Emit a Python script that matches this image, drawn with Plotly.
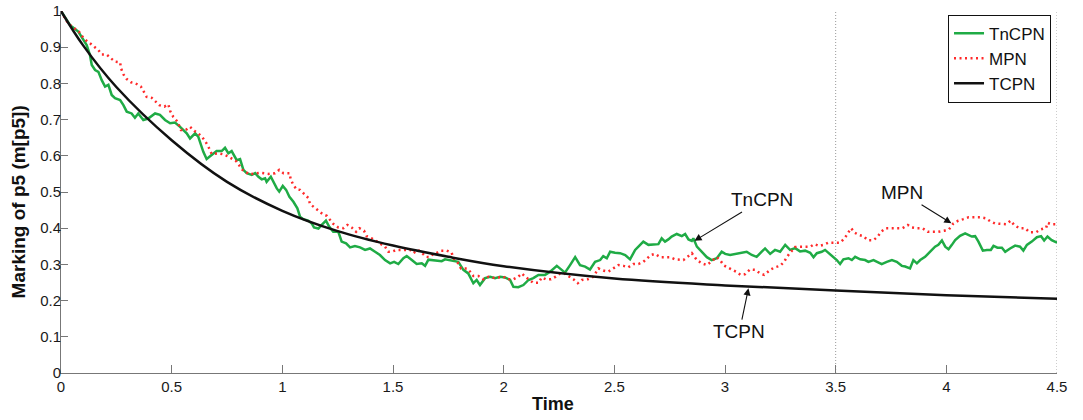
import plotly.graph_objects as go

# ---------------- data ----------------
TNCPN = [(0,1.0),(0.041,0.961),(0.078,0.943),(0.116,0.906),(0.131,0.878),(0.139,0.851),(0.154,0.837),(0.169,0.832),(0.184,0.809),(0.199,0.791),(0.214,0.796),(0.229,0.768),(0.244,0.759),(0.267,0.754),(0.282,0.740),(0.297,0.722),(0.319,0.717),(0.334,0.705),(0.349,0.717),(0.372,0.699),(0.394,0.703),(0.425,0.717),(0.447,0.713),(0.470,0.699),(0.493,0.690),(0.515,0.692),(0.538,0.680),(0.568,0.662),(0.583,0.648),(0.606,0.662),(0.620,0.653),(0.643,0.611),(0.658,0.591),(0.681,0.602),(0.703,0.613),(0.726,0.613),(0.741,0.622),(0.756,0.607),(0.771,0.613),(0.794,0.588),(0.809,0.591),(0.824,0.561),(0.839,0.552),(0.862,0.547),(0.877,0.552),(0.892,0.542),(0.907,0.535),(0.922,0.538),(0.929,0.528),(0.948,0.542),(0.959,0.528),(0.975,0.510),(0.986,0.501),(1.002,0.517),(1.017,0.506),(1.032,0.487),(1.050,0.473),(1.068,0.455),(1.080,0.432),(1.095,0.425),(1.117,0.421),(1.133,0.413),(1.143,0.402),(1.163,0.399),(1.178,0.409),(1.197,0.421),(1.212,0.404),(1.230,0.390),(1.253,0.390),(1.268,0.363),(1.288,0.358),(1.306,0.347),(1.328,0.351),(1.351,0.347),(1.374,0.340),(1.396,0.344),(1.419,0.335),(1.441,0.326),(1.464,0.312),(1.487,0.303),(1.505,0.307),(1.524,0.301),(1.547,0.317),(1.562,0.323),(1.585,0.312),(1.607,0.301),(1.630,0.303),(1.645,0.296),(1.660,0.313),(1.690,0.312),(1.720,0.309),(1.735,0.314),(1.765,0.310),(1.795,0.307),(1.818,0.285),(1.840,0.275),(1.863,0.248),(1.878,0.257),(1.893,0.243),(1.916,0.262),(1.939,0.266),(1.961,0.262),(1.984,0.266),(2.006,0.264),(2.029,0.257),(2.044,0.238),(2.066,0.237),(2.089,0.243),(2.112,0.257),(2.134,0.262),(2.157,0.271),(2.187,0.271),(2.210,0.280),(2.240,0.296),(2.262,0.285),(2.277,0.277),(2.300,0.298),(2.323,0.320),(2.345,0.298),(2.368,0.294),(2.390,0.286),(2.413,0.307),(2.436,0.312),(2.450,0.323),(2.466,0.317),(2.481,0.335),(2.503,0.332),(2.526,0.331),(2.549,0.326),(2.571,0.314),(2.594,0.340),(2.616,0.354),(2.631,0.363),(2.654,0.354),(2.676,0.356),(2.699,0.356),(2.714,0.372),(2.729,0.363),(2.744,0.369),(2.759,0.377),(2.782,0.384),(2.805,0.378),(2.820,0.384),(2.835,0.369),(2.850,0.365),(2.857,0.372),(2.873,0.349),(2.895,0.335),(2.918,0.320),(2.940,0.312),(2.963,0.317),(2.985,0.335),(3.001,0.329),(3.023,0.326),(3.053,0.329),(3.083,0.332),(3.098,0.335),(3.121,0.326),(3.143,0.321),(3.166,0.335),(3.181,0.344),(3.204,0.329),(3.226,0.340),(3.249,0.335),(3.272,0.354),(3.294,0.340),(3.317,0.345),(3.339,0.336),(3.362,0.338),(3.385,0.332),(3.400,0.320),(3.415,0.331),(3.437,0.335),(3.452,0.340),(3.467,0.332),(3.490,0.321),(3.505,0.312),(3.520,0.301),(3.535,0.314),(3.558,0.317),(3.573,0.312),(3.588,0.321),(3.611,0.314),(3.633,0.312),(3.648,0.307),(3.671,0.312),(3.693,0.305),(3.708,0.301),(3.731,0.307),(3.754,0.312),(3.776,0.307),(3.799,0.296),(3.814,0.294),(3.836,0.289),(3.851,0.312),(3.867,0.303),(3.882,0.312),(3.904,0.321),(3.927,0.335),(3.949,0.349),(3.964,0.354),(3.980,0.366),(3.995,0.349),(4.010,0.342),(4.025,0.354),(4.040,0.367),(4.062,0.379),(4.085,0.386),(4.115,0.377),(4.130,0.378),(4.145,0.363),(4.165,0.338),(4.183,0.340),(4.201,0.340),(4.213,0.351),(4.231,0.346),(4.251,0.346),(4.266,0.335),(4.288,0.344),(4.311,0.352),(4.333,0.349),(4.348,0.338),(4.364,0.354),(4.386,0.363),(4.409,0.375),(4.428,0.378),(4.442,0.366),(4.457,0.377),(4.476,0.367),(4.5,0.360)]

MPN = [(0,1.0),(0.026,0.972),(0.041,0.961),(0.063,0.950),(0.081,0.943),(0.093,0.932),(0.111,0.920),(0.131,0.911),(0.150,0.901),(0.169,0.892),(0.184,0.880),(0.206,0.880),(0.226,0.869),(0.244,0.860),(0.267,0.858),(0.271,0.842),(0.282,0.825),(0.297,0.812),(0.316,0.803),(0.337,0.800),(0.361,0.791),(0.377,0.775),(0.387,0.763),(0.410,0.760),(0.425,0.751),(0.444,0.740),(0.467,0.736),(0.485,0.742),(0.493,0.724),(0.507,0.708),(0.527,0.694),(0.542,0.671),(0.563,0.671),(0.583,0.680),(0.602,0.669),(0.620,0.662),(0.636,0.653),(0.651,0.641),(0.666,0.625),(0.681,0.605),(0.711,0.607),(0.733,0.604),(0.756,0.598),(0.779,0.590),(0.794,0.584),(0.809,0.570),(0.824,0.558),(0.854,0.549),(0.899,0.553),(0.937,0.550),(0.967,0.552),(0.986,0.561),(1.005,0.552),(1.032,0.552),(1.038,0.535),(1.050,0.519),(1.065,0.507),(1.080,0.506),(1.103,0.492),(1.118,0.483),(1.125,0.467),(1.143,0.458),(1.163,0.450),(1.182,0.439),(1.201,0.434),(1.216,0.423),(1.230,0.412),(1.253,0.402),(1.276,0.400),(1.294,0.409),(1.313,0.402),(1.333,0.390),(1.348,0.400),(1.369,0.393),(1.381,0.378),(1.404,0.372),(1.441,0.358),(1.464,0.349),(1.479,0.335),(1.494,0.335),(1.517,0.340),(1.540,0.340),(1.562,0.338),(1.577,0.340),(1.592,0.331),(1.612,0.340),(1.630,0.332),(1.649,0.321),(1.664,0.320),(1.675,0.326),(1.698,0.332),(1.717,0.338),(1.743,0.338),(1.765,0.332),(1.773,0.317),(1.792,0.305),(1.807,0.289),(1.833,0.289),(1.848,0.280),(1.863,0.268),(1.886,0.268),(1.908,0.259),(1.931,0.266),(1.953,0.263),(1.976,0.264),(1.999,0.266),(2.018,0.259),(2.044,0.259),(2.066,0.266),(2.082,0.275),(2.097,0.266),(2.115,0.257),(2.134,0.249),(2.157,0.249),(2.172,0.264),(2.190,0.259),(2.214,0.259),(2.235,0.266),(2.255,0.275),(2.274,0.275),(2.296,0.266),(2.315,0.259),(2.335,0.248),(2.353,0.257),(2.380,0.259),(2.405,0.266),(2.428,0.289),(2.450,0.283),(2.473,0.280),(2.496,0.288),(2.518,0.298),(2.541,0.296),(2.563,0.292),(2.586,0.301),(2.609,0.301),(2.631,0.307),(2.647,0.317),(2.665,0.326),(2.684,0.329),(2.707,0.320),(2.729,0.320),(2.752,0.320),(2.774,0.314),(2.797,0.312),(2.812,0.312),(2.835,0.323),(2.850,0.331),(2.873,0.312),(2.895,0.303),(2.918,0.298),(2.940,0.310),(2.963,0.320),(2.978,0.312),(2.993,0.298),(3.011,0.292),(3.031,0.286),(3.050,0.280),(3.071,0.271),(3.091,0.273),(3.113,0.286),(3.136,0.285),(3.159,0.275),(3.177,0.271),(3.189,0.277),(3.207,0.286),(3.226,0.292),(3.249,0.296),(3.267,0.307),(3.279,0.320),(3.294,0.332),(3.317,0.348),(3.339,0.349),(3.362,0.349),(3.385,0.349),(3.404,0.356),(3.425,0.351),(3.445,0.354),(3.467,0.360),(3.494,0.360),(3.520,0.360),(3.540,0.372),(3.555,0.386),(3.570,0.400),(3.585,0.388),(3.606,0.381),(3.625,0.378),(3.645,0.367),(3.671,0.367),(3.690,0.377),(3.705,0.390),(3.727,0.400),(3.751,0.400),(3.776,0.400),(3.802,0.400),(3.826,0.409),(3.844,0.402),(3.867,0.400),(3.892,0.400),(3.916,0.390),(3.942,0.390),(3.964,0.390),(3.991,0.393),(4.012,0.397),(4.032,0.413),(4.054,0.421),(4.077,0.425),(4.100,0.430),(4.130,0.430),(4.156,0.430),(4.180,0.427),(4.201,0.418),(4.220,0.413),(4.246,0.411),(4.270,0.411),(4.291,0.421),(4.306,0.409),(4.330,0.400),(4.356,0.400),(4.375,0.389),(4.406,0.389),(4.427,0.397),(4.451,0.401),(4.457,0.415),(4.473,0.411),(4.497,0.411)]

TCPN = [(0,1.0),(0.1,0.905),(0.25,0.79),(0.5,0.643),(0.75,0.528),(1.0,0.448),(1.25,0.392),(1.5,0.352),(1.75,0.321),(2.0,0.295),(2.5,0.261),(3.0,0.242),(3.5,0.228),(4.0,0.215),(4.5,0.205)]

X_TICKS = [0, 0.5, 1, 1.5, 2, 2.5, 3, 3.5, 4, 4.5]
X_LABELS = ["0", "0.5", "1", "1.5", "2", "2.5", "3", "3.5", "4", "4.5"]
Y_TICKS = [0, 0.1, 0.2, 0.3, 0.4, 0.5, 0.6, 0.7, 0.8, 0.9, 1]
Y_LABELS = ["0", "0.1", "0.2", "0.3", "0.4", "0.5", "0.6", "0.7", "0.8", "0.9", "1"]
GUIDE_X = [3.5, 4.5]

# annotations: (label, arrow head t, arrow head v, text t, text v)
CALLOUTS = [("TnCPN", 2.862, 0.365, 3.166, 0.478),
            ("MPN", 4.023, 0.4135, 3.801, 0.498),
            ("TCPN", 3.106, 0.234, 3.065, 0.114)]

FONT = "Liberation Sans, Arial, Helvetica, sans-serif"

def split(pairs):
    return [p[0] for p in pairs], [p[1] for p in pairs]

fig = go.Figure()
tx, ty = split(TNCPN)
fig.add_trace(go.Scatter(x=tx, y=ty, mode="lines", name="TnCPN",
                         line=dict(color="#1fab45", width=2.5)))
mx, my = split(MPN)
fig.add_trace(go.Scatter(x=mx, y=my, mode="lines", name="MPN",
                         line=dict(color="#ff2a2a", width=2.5, dash="2px,3.5px")))
cx, cy = split(TCPN)
fig.add_trace(go.Scatter(x=cx, y=cy, mode="lines", name="TCPN",
                         line=dict(color="#111111", width=2.5, shape="spline", smoothing=1.0)))

for gx in GUIDE_X:
    fig.add_shape(type="line", x0=gx, x1=gx, y0=0, y1=1, xref="x", yref="y",
                  line=dict(color="#9a9a9a", width=1, dash="1px,2px"), layer="below")

for label, hx, hy, ax, ay in CALLOUTS:
    fig.add_annotation(x=hx, y=hy, ax=ax, ay=ay, xref="x", yref="y", axref="x", ayref="y",
                       text=label, showarrow=True, arrowhead=2, arrowsize=1.3, arrowwidth=1.1,
                       arrowcolor="#111111", font=dict(family=FONT, size=19, color="#111111"))

fig.add_annotation(text="<b>Time</b>", x=0.494, y=-0.0856, xref="paper", yref="paper",
                   xanchor="center", yanchor="middle",
                   showarrow=False, font=dict(family=FONT, size=18, color="#111111"))
fig.add_annotation(text="<b>Marking of p5 (m[p5])</b>", x=-0.0432, y=0.474, xref="paper", yref="paper",
                   xanchor="center", yanchor="middle",
                   textangle=-90, showarrow=False, font=dict(family=FONT, size=19, color="#111111"))

fig.update_layout(
    width=1083, height=420,
    margin=dict(l=61, r=26, t=11, b=47, autoexpand=False),
    paper_bgcolor="white", plot_bgcolor="white",
    font=dict(family=FONT, size=15, color="#222222"),
    showlegend=True,
    legend=dict(x=0.994, y=0.99, xanchor="right", yanchor="top",
                bgcolor="white", bordercolor="#111111", borderwidth=1,
                font=dict(family=FONT, size=17, color="#111111"),
                tracegroupgap=0, itemwidth=30),
)
fig.update_xaxes(range=[0, 4.5], tickvals=X_TICKS, ticktext=X_LABELS, automargin=False,
                 showgrid=False, zeroline=False, showline=True, linecolor="#777777", linewidth=1,
                 ticks="inside", ticklen=8, tickcolor="#777777", mirror=False,
                 ticklabeloverflow="allow",
                 tickfont=dict(family=FONT, size=15, color="#1a1a1a"))
fig.update_yaxes(range=[0, 1], tickvals=Y_TICKS, ticktext=Y_LABELS, automargin=False,
                 showgrid=False, zeroline=False, showline=True, linecolor="#777777", linewidth=1,
                 ticks="inside", ticklen=7, tickcolor="#777777", mirror=False,
                 ticklabeloverflow="allow", ticklabelstandoff=-4,
                 tickfont=dict(family=FONT, size=15, color="#1a1a1a"))

# remove the browser's default 8px body margin so the figure sits at the page origin
fig.write_html("out.html", config={"displayModeBar": False},
               post_script="document.body.style.margin='0px';")
